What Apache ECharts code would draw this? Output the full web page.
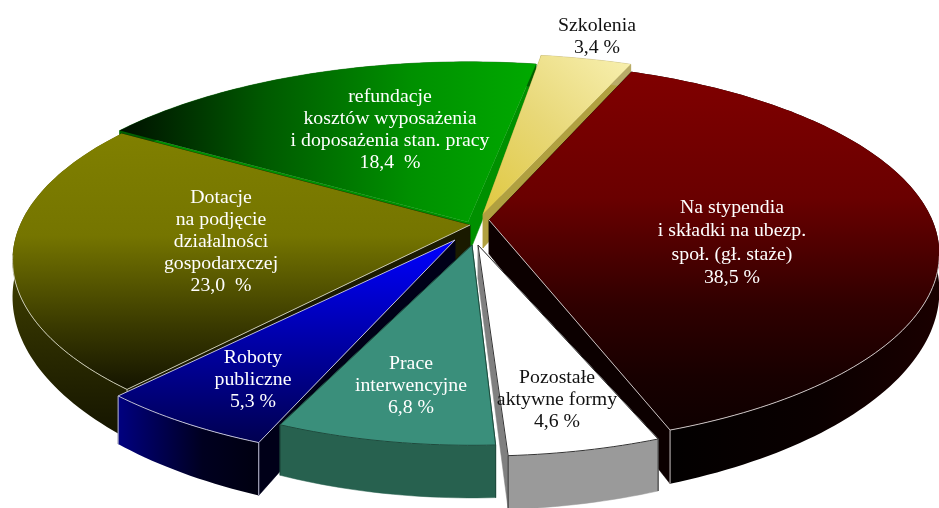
<!DOCTYPE html>
<html>
<head>
<meta charset="utf-8">
<style>
  html, body { margin: 0; padding: 0; background: #fff; }
  #chart { width: 939px; height: 508px; }
</style>
<script src="https://cdn.jsdelivr.net/npm/echarts@6/dist/echarts.min.js"></script>
</head>
<body>
<div id="chart"></div>
<script>
// clockwise, starting at the red slice
const categories = [
  'Na stypendia\ni składki na ubezp.\nspoł. (gł. staże)',
  'Pozostałe\naktywne formy',
  'Prace\ninterwencyjne',
  'Roboty\npubliczne',
  'Dotacje\nna podjęcie\ndziałalności\ngospodarxczej',
  'refundacje\nkosztów wyposażenia\ni doposażenia stan. pracy',
  'Szkolenia'
]
const shares = [38.5, 4.6, 6.8, 5.3, 23.0, 18.4, 3.4]
const shareLabels = ['38,5 %', '4,6 %', '6,8 %', '5,3 %', '23,0  %', '18,4  %', '3,4 %']

// layout of the fake 3d pie, one entry per slice
const apexShift = [[11, -5], [0, 20], [-6, 20], [-23, 15], [-8, 0], [-10, -3], [5, -11]]
const radiusScale = [0.985, 0.93, 0.89, 0.97, 1, 1, 1]
const angleNudge = [[-0.5, -1], [-2.4, -1.1], [-0.5, 2], [0, 1], [0, -2], [-2, 0], [-1.5, 0]]
const labelPos = [[732, 243], [557, 400], [411, 385.5], [253, 380], [221, 241.5], [390, 129.5], [597, 37]]
const labelLine = [23.5, 22, 22, 22, 22, 22, 22]
const labelColor = ['#fff', '#111', '#fff', '#fff', '#fff', '#fff', '#111']
const drawRank = [5, 6, 4, 3, 1, 0, 2]

const CX = 478
const CY = 225
const RX = 450
const RY = 189
const TILT = 0.18
const DEPTH = 34
const START_DEG = 22.5

const grad = (x, y, x2, y2, stops) => new echarts.graphic.LinearGradient(
  x, y, x2, y2, stops.map(c => ({ offset: c[0], color: c[1] })))
const vert = (...stops) => grad(0, 0, 0, 1, stops)
const horiz = (...stops) => grad(0, 0, 1, 0, stops)

const topFill = [
  vert([0, '#800000'], [0.35, '#6a0000'], [0.65, '#300000'], [0.85, '#180000'], [1, '#0e0000']),
  '#ffffff',
  '#3a8f7b',
  vert([0, '#0000ff'], [0.45, '#0000b0'], [1, '#000050']),
  vert([0, '#808000'], [0.4, '#757500'], [0.75, '#3a3a00'], [1, '#141400']),
  horiz([0, '#001000'], [0.35, '#005a00'], [0.7, '#009000'], [1, '#00aa00']),
  grad(0, 1, 1, 0, [[0, '#e0c840'], [0.5, '#e8d878'], [1, '#f8f0b0']])
]
const wallFill = [
  horiz([0, '#000000'], [0.6, '#0a0000'], [1, '#1a0000']),
  '#9a9a9a',
  '#27614f',
  horiz([0, '#000080'], [0.6, '#000020'], [1, '#000010']),
  vert([0, '#666600'], [0.5, '#3a3a00'], [1, '#141400']),
  '#006000',
  '#b8ab68'
]
const cutFill = ['#0c0000', '#808080', '#27614f', '#000018', '#1a1a00', '#009000', '#b0a040']
const rimColor = ['#c8c0c0', '#333', '#1e4a3c', '#c0c0d8', '#c8c8b0', null, null]

function project(theta, r, shift, drop) {
  const u = r * Math.sin(theta)
  const v = -r * Math.cos(theta)
  const w = 1 - TILT * v
  return [
    CX + shift[0] + RX * u / w,
    CY + shift[1] + RY * v / w + (drop ? DEPTH / Math.pow(w, 2.5) : 0)
  ]
}

function arcPoints(a0, a1, r, shift, drop) {
  const steps = Math.max(2, Math.ceil(Math.abs(a1 - a0) / 0.02))
  const pts = []
  for (let i = 0; i <= steps; i++) {
    pts.push(project(a0 + (a1 - a0) * i / steps, r, shift, drop))
  }
  return pts
}

function renderSlice(params, api) {
  const i = params.dataIndex
  let before = 0
  for (let k = 0; k < i; k++) before += shares[k]
  const startDeg = START_DEG + before * 3.6
  const a0 = (startDeg + angleNudge[i][0]) * Math.PI / 180
  const a1 = (startDeg + api.value(0) * 3.6 + angleNudge[i][1]) * Math.PI / 180
  const r = radiusScale[i]
  const s = apexShift[i]
  const base = drawRank[i] * 20

  const apex = project(0, 0, s, false)
  const apexLow = project(0, 0, s, true)
  const rimTop = arcPoints(a0, a1, r, s, false)
  const rimLow = arcPoints(a0, a1, r, s, true)
  const first = rimTop[0]
  const last = rimTop[rimTop.length - 1]

  const poly = (points, fill, z) => ({
    type: 'polygon', z2: base + z, shape: { points },
    style: { fill, stroke: fill.colorStops ? null : fill, lineWidth: 0.5 }
  })
  const line = (points, z) => ({
    type: 'polyline', z2: base + z, shape: { points },
    style: { fill: null, stroke: rimColor[i], lineWidth: 1 }
  })

  const children = [
    poly([apex, first, rimLow[0], apexLow], cutFill[i], 1),
    poly([apex, last, rimLow[rimLow.length - 1], apexLow], cutFill[i], 1),
    poly(rimTop.concat(rimLow.slice().reverse()), wallFill[i], 2),
    poly([apex].concat(rimTop), topFill[i], 3)
  ]

  if (rimColor[i]) {
    // light edge along the front of the rim, plus the corner drops
    const front = rimTop.filter(p => p[1] > CY + 30)
    if (front.length) children.push(line(front, 4))
    const ends = [[first, rimLow[0]], [last, rimLow[rimLow.length - 1]]]
    ends.forEach(e => {
      if (e[0][1] > CY + 100) {
        children.push(line(e, 4))
        children.push(line([apex, e[0]], 4))
      }
    })
  }

  children.push({
    type: 'text', z2: 1000,
    style: {
      text: categories[i] + '\n' + shareLabels[i],
      x: labelPos[i][0],
      y: labelPos[i][1],
      align: 'center',
      verticalAlign: 'middle',
      lineHeight: labelLine[i],
      font: '19.8px "Liberation Serif"',
      fill: labelColor[i]
    }
  })

  return { type: 'group', children }
}

const chart = echarts.init(document.getElementById('chart'), null, { renderer: 'canvas' })
chart.setOption({
  animation: false,
  backgroundColor: '#ffffff',
  series: [{
    type: 'custom',
    coordinateSystem: 'none',
    renderItem: renderSlice,
    data: shares.map(v => [v])
  }]
})
</script>
</body>
</html>
